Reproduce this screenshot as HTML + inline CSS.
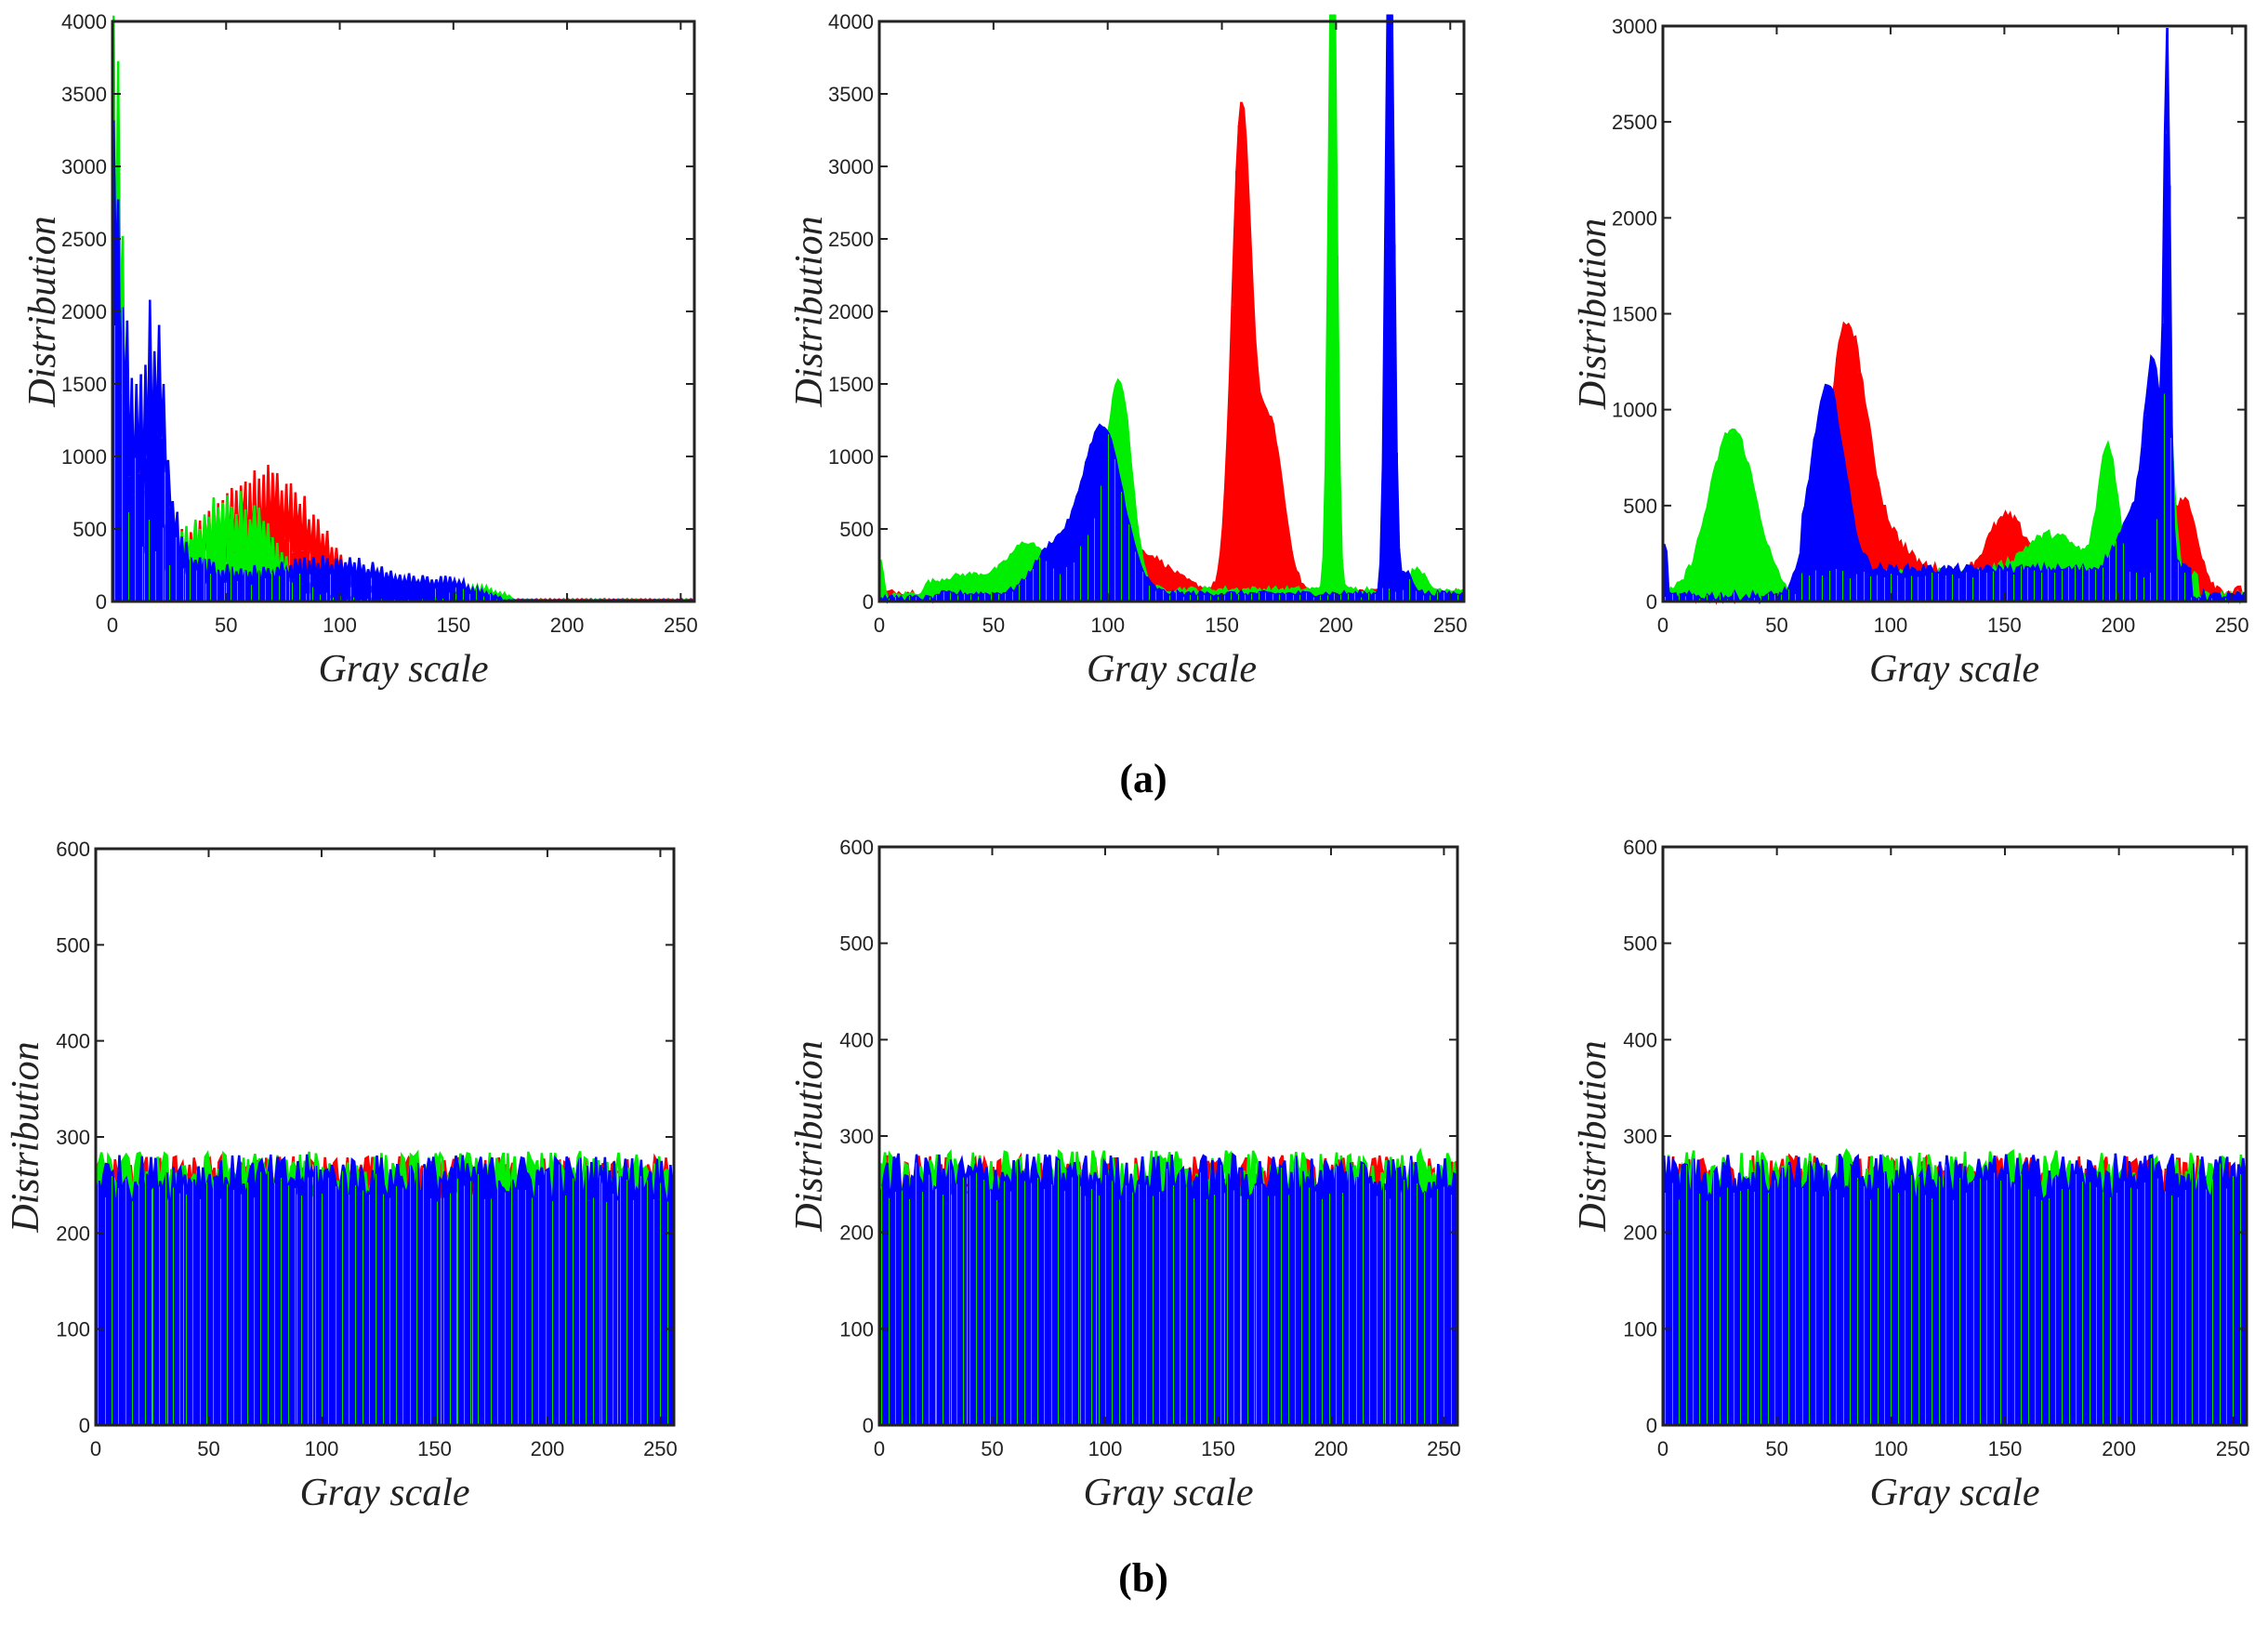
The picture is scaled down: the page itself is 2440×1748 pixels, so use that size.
<!DOCTYPE html>
<html><head><meta charset="utf-8">
<style>
html,body{margin:0;padding:0;background:#fff;}
svg{display:block;}
.tk{font-family:"Liberation Sans",sans-serif;font-size:22px;fill:#222;}
.ttl{font-family:"Liberation Serif",serif;font-style:italic;font-size:42px;fill:#222;}
.lab{font-family:"Liberation Serif",serif;font-weight:bold;font-size:44px;fill:#000;}
</style></head>
<body>
<svg id="s" width="2440" height="1748" viewBox="0 0 2440 1748" xmlns="http://www.w3.org/2000/svg">
<text class="lab" x="1230" y="852" text-anchor="middle">(a)</text>
<text class="lab" x="1230" y="1712" text-anchor="middle">(b)</text>
</svg>
<script>
var svg=document.getElementById('s');var NS='http://www.w3.org/2000/svg';
var seed=12345;function rnd(){seed=(seed*1103515245+12345)%2147483648;return seed/2147483648;}
function g(x,m,s){return Math.exp(-0.5*(x-m)*(x-m)/(s*s));}
function el(t,a,txt){var e=document.createElementNS(NS,t);for(var k in a)e.setAttribute(k,a[k]);if(txt!==undefined)e.textContent=txt;svg.appendChild(e);return e;}
function panel(x0,x1,y0,y1,ymax,ystep,data){
  var W=x1-x0,H=y1-y0,bw=W/256;
  function X(v){return x0+W*v/256;}function Y(v){return y1-H*Math.min(v,ymax*1.01)/ymax;}
  var cols=['#ff0000','#00ee00','#0000ff'];
  for(var c=0;c<3;c++){
    var d=data[c],p='',pl='';
    for(var i=0;i<256;i++){var xx=X(i+0.5);p+='M'+xx.toFixed(1)+' '+y1+'V'+Y(d[i]).toFixed(1);pl+=(i?'L':'M')+xx.toFixed(1)+' '+Y(d[i]).toFixed(1);}
    el('path',{d:p,stroke:cols[c],'stroke-width':(bw*1.02).toFixed(2),fill:'none','shape-rendering':'crispEdges'});
    el('path',{d:pl,stroke:cols[c],'stroke-width':2.5,fill:'none'});
  }
  // thin green/red stripes visible through blue
  var s='';
  for(var i=1;i<256;i+=3){var v=Math.min(data[1][i],data[2][i]);if(v<=0)continue;var xx=Math.round(X(i))+0.5;s+='M'+xx+' '+y1+'V'+Y(v).toFixed(1);}
  el('path',{d:s,stroke:'#00dd00','stroke-width':1,fill:'none','shape-rendering':'crispEdges'});
  el('rect',{x:x0,y:y0,width:W,height:H,fill:'none',stroke:'#222','stroke-width':3});
  for(var v=0;v<=250;v+=50){var xx=X(v);
    el('path',{d:'M'+xx+' '+y1+'v-9M'+xx+' '+y0+'v9',stroke:'#222','stroke-width':2});
    el('text',{'class':'tk',x:xx,y:y1+33,'text-anchor':'middle'},v);}
  for(var v=0;v<=ymax;v+=ystep){var yy=Y(v);
    el('path',{d:'M'+x0+' '+yy+'h9M'+x1+' '+yy+'h-9',stroke:'#222','stroke-width':2});
    el('text',{'class':'tk',x:x0-6,y:yy+8,'text-anchor':'end'},v);}
  el('text',{'class':'ttl',x:(x0+x1)/2,y:y1+86,'text-anchor':'middle'},'Gray scale');
  var cx=x0-62,cy=(y0+y1)/2;
  el('text',{'class':'ttl',x:cx,y:cy,'text-anchor':'middle',transform:'rotate(-90 '+cx+' '+cy+')'},'Distribution');
}
function mk(f){var a=[];for(var i=0;i<256;i++)a.push(Math.max(0,f(i)));return a;}
var a1=[
 mk(function(i){var b=2600*Math.exp(-i/6)+600*Math.exp(-i/25)+800*g(i,68,22)+150*Math.exp(-i/60);if(i>170)b=15;return b*(i%2?0.35+0.3*rnd():0.9+0.2*rnd());}),
 mk(function(i){var b=4200*Math.exp(-i/4)+900*Math.exp(-i/30)+550*g(i,55,15)+100*g(i,160,10);if(i>175)b=10;return b*(i%2?0.4+0.3*rnd():0.85+0.3*rnd());}),
 mk(function(i){var b=2800*Math.exp(-i/5)+1300*g(i,18,5)+1000*Math.exp(-i/28)+250*g(i,100,30)+80*g(i,150,10);if(i>170)b=8;return b*(i%2?0.45+0.3*rnd():0.85+0.3*rnd());})];
var a2=[
 mk(function(i){return 40+300*g(i,110,15)+3200*g(i,158,4)+1200*g(i,170,6)+60*g(i,225,5)+rnd()*40;}),
 mk(function(i){return (i<5?250*g(i,0,1):0)+100*g(i,40,15)+300*g(i,65,8)+1250*g(i,105,5)+400*g(i,95,8)+5000*g(i,198,1.6)+60+rnd()*40-(i<20?50:0)+150*g(i,235,3);}),
 mk(function(i){return 30+1150*g(i,97,9)+300*g(i,75,8)+5200*g(i,223,1.6)+150*g(i,230,3)+rnd()*40-(i<25?30:0);})];
var a3=[
 mk(function(i){return (i<60?0:20)+1300*g(i,80,8)+250*g(i,95,10)+330*g(i,150,8)+220*g(i,175,12)+480*g(i,228,6)+100*g(i,120,20)+rnd()*60;}),
 mk(function(i){return 870*g(i,30,10)+(i>60&&i<235?120:0)+650*g(i,195,4)+1000*g(i,221,2.5)+200*g(i,170,12)+rnd()*50;}),
 mk(function(i){return (i<2?260:0)+950*g(i,72,7)+(i>60&&i<232?140:0)+250*g(i,205,6)+1050*g(i,215,4)+2500*g(i,221,1.2)+rnd()*50;})];
panel(121,747,23,647,4000,500,a1);
panel(946,1575,23,647,4000,500,a2);
panel(1789,2416,28,647,3000,500,a3);
function flat(){return [mk(function(){return 235+rnd()*45;}),mk(function(){return 235+rnd()*50;}),mk(function(){return 232+rnd()*50;})];}
panel(103,725,913,1533,600,100,flat());
panel(946,1568,911,1533,600,100,flat());
panel(1789,2417,911,1533,600,100,flat());
</script>
</body></html>
